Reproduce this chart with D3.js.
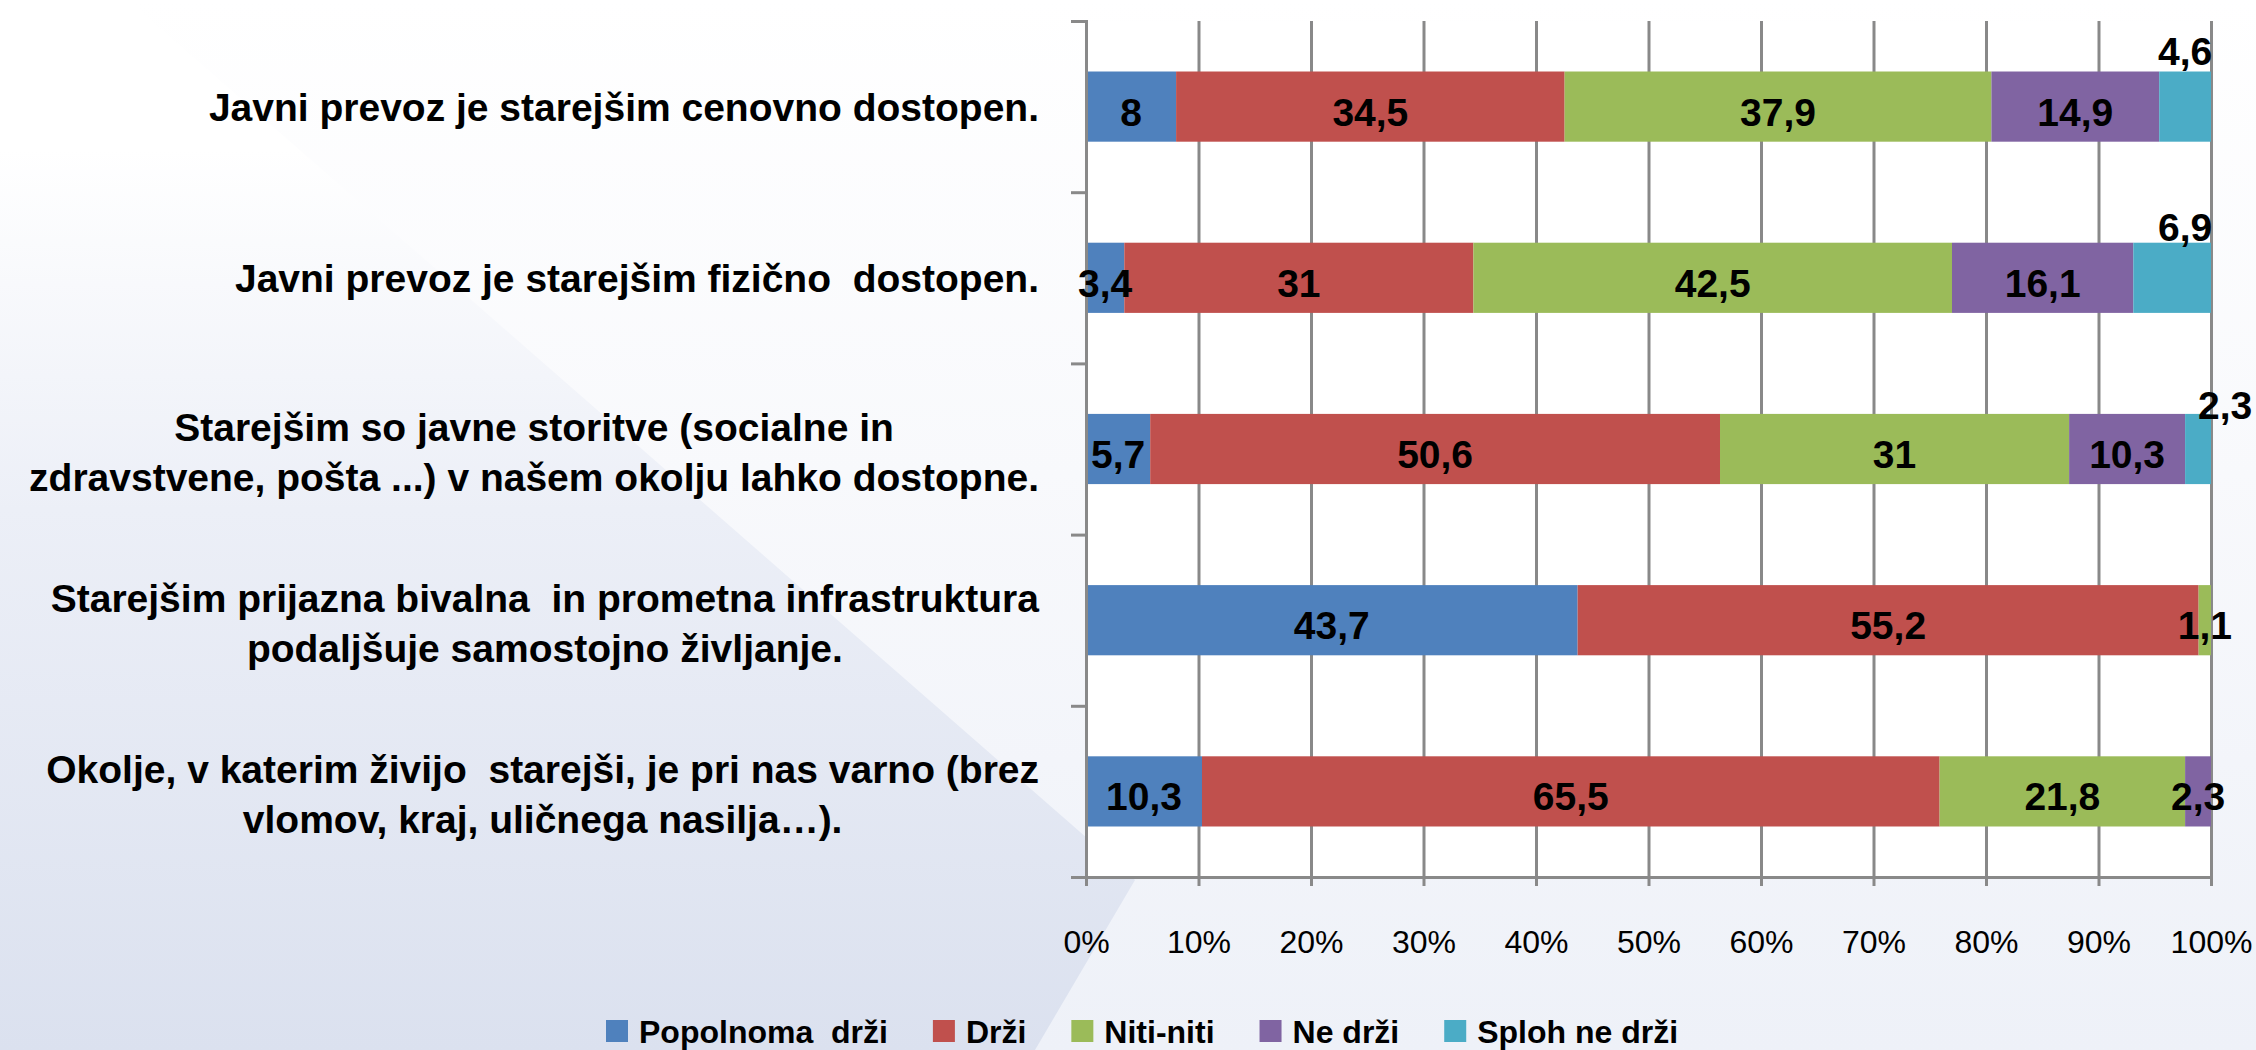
<!DOCTYPE html>
<html>
<head>
<meta charset="utf-8">
<script src="https://cdn.jsdelivr.net/npm/d3@7"></script>
<style>
  body { margin: 0; background: #fff; }
  text { font-family: "Liberation Sans", Arial, sans-serif; }
</style>
</head>
<body>
<div id="chart"></div>
<script>
// categories (top to bottom), "\n" marks the line breaks of the label
var categories = [
  "Javni prevoz je starejšim cenovno dostopen.",
  "Javni prevoz je starejšim fizično  dostopen.",
  "Starejšim so javne storitve (socialne in\nzdravstvene, pošta ...) v našem okolju lahko dostopne.",
  "Starejšim prijazna bivalna  in prometna infrastruktura\npodaljšuje samostojno življanje.",
  "Okolje, v katerim živijo  starejši, je pri nas varno (brez\nvlomov, kraj, uličnega nasilja…)."
];

var seriesNames = ["Popolnoma  drži", "Drži", "Niti-niti", "Ne drži", "Sploh ne drži"];
var seriesColors = ["#4F81BD", "#C0504D", "#9BBB59", "#8064A2", "#4BACC6"];

// values in %, one array per series
var popolnomaDrzi = [8, 3.4, 5.7, 43.7, 10.3];
var drzi = [34.5, 31, 50.6, 55.2, 65.5];
var nitiNiti = [37.9, 42.5, 31, 1.1, 21.8];
var neDrzi = [14.9, 16.1, 10.3, 0, 2.3];
var splohNeDrzi = [4.6, 6.9, 2.3, 0, 0];

var tickValues = [0, 0.1, 0.2, 0.3, 0.4, 0.5, 0.6, 0.7, 0.8, 0.9, 1];

// a few labels were moved by hand in the original (series index, row index)
var labelNudge = [
  { s: 4, r: 0, dx: 0, dy: -61 },
  { s: 4, r: 1, dx: 13, dy: -56 },
  { s: 4, r: 2, dx: 27, dy: -49 }
];

// Set up chart
var svgWidth = 2256;
var svgHeight = 1050;

var plot = { left: 1086, right: 2211, top: 21, bottom: 877 };
var width = plot.right - plot.left;
var height = plot.bottom - plot.top;

var svg = d3.select("#chart")
  .append("svg")
  .attr("width", svgWidth)
  .attr("height", svgHeight);

// background
var defs = svg.append("defs");
var bg = defs.append("linearGradient").attr("id", "bg")
  .attr("x1", 0).attr("y1", 0).attr("x2", 0).attr("y2", 1);
bg.append("stop").attr("offset", "0%").attr("stop-color", "#ffffff");
bg.append("stop").attr("offset", "45%").attr("stop-color", "#f8f9fc");
bg.append("stop").attr("offset", "100%").attr("stop-color", "#eef1f8");

var shade = defs.append("linearGradient").attr("id", "shade")
  .attr("gradientUnits", "userSpaceOnUse")
  .attr("x1", 0).attr("y1", 150).attr("x2", 0).attr("y2", 1050);
shade.append("stop").attr("offset", "0%").attr("stop-color", "#ffffff");
shade.append("stop").attr("offset", "40%").attr("stop-color", "#eceff7");
shade.append("stop").attr("offset", "100%").attr("stop-color", "#dbe1ef");

svg.append("rect")
  .attr("width", svgWidth)
  .attr("height", svgHeight)
  .attr("fill", "url(#bg)");

svg.append("path")
  .attr("d", "M0,-112 L1135,880 L1035,1050 L0,1050 Z")
  .attr("fill", "url(#shade)");

// plot area
svg.append("rect")
  .attr("x", plot.left)
  .attr("y", plot.top)
  .attr("width", width)
  .attr("height", height)
  .attr("fill", "#ffffff");

var chartGroup = svg.append("g")
  .attr("transform", `translate(${plot.left}, ${plot.top})`);

// data table
var allSeries = [popolnomaDrzi, drzi, nitiNiti, neDrzi, splohNeDrzi];
var keys = seriesNames;
var table = categories.map(function(c, i) {
  var row = { category: c };
  keys.forEach(function(k, s) { row[k] = allSeries[s][i]; });
  return row;
});

var stacked = d3.stack()
  .keys(keys)
  .offset(d3.stackOffsetExpand)(table);

// Scales
var xScale = d3.scaleLinear()
  .domain([0, 1])
  .range([0, width]);

var yScale = d3.scaleBand()
  .domain(categories)
  .range([0, height])
  .paddingInner(0.59)
  .paddingOuter(0.295);

var slotScale = d3.scaleLinear()
  .domain([0, categories.length])
  .range([0, height]);

// gridlines
chartGroup.append("g")
  .attr("class", "grid")
  .call(d3.axisBottom(xScale).tickValues(tickValues).tickSize(height).tickFormat(""))
  .call(g => g.select(".domain").remove())
  .call(g => g.selectAll("line").attr("stroke", "#898989").attr("stroke-width", 3));

// bars
chartGroup.append("g")
  .selectAll("g")
  .data(stacked)
  .enter()
  .append("g")
  .attr("fill", (d, i) => seriesColors[i])
  .selectAll("rect")
  .data(d => d)
  .enter()
  .append("rect")
  .attr("x", d => xScale(d[0]))
  .attr("y", d => yScale(d.data.category))
  .attr("width", d => xScale(d[1]) - xScale(d[0]))
  .attr("height", yScale.bandwidth());

// x axis
chartGroup.append("g")
  .attr("transform", `translate(0, ${height})`)
  .call(d3.axisBottom(xScale).tickValues(tickValues).tickSize(9).tickPadding(44).tickFormat(d3.format(".0%")))
  .call(g => g.select(".domain").attr("stroke", "#898989").attr("stroke-width", 3))
  .call(g => g.selectAll("line").attr("stroke", "#898989").attr("stroke-width", 3))
  .call(g => g.selectAll("text")
    .attr("fill", "#000")
    .style("font-size", "32px")
    .style("font-family", "'Liberation Sans', Arial, sans-serif"));

// y axis (ticks between categories)
chartGroup.append("g")
  .call(d3.axisLeft(slotScale).ticks(categories.length).tickSize(15).tickFormat(""))
  .call(g => g.select(".domain").attr("stroke", "#898989").attr("stroke-width", 3))
  .call(g => g.selectAll("line").attr("stroke", "#898989").attr("stroke-width", 3));

// category labels: each block right aligned, lines centred inside it
var lineHeight = 50;
var catLabels = chartGroup.append("g")
  .selectAll("text")
  .data(categories)
  .enter()
  .append("text")
  .attr("text-anchor", "middle")
  .style("font-size", "39px")
  .style("font-weight", "bold")
  .style("white-space", "pre")
  .attr("fill", "#000");

catLabels.each(function(c) {
  var t = d3.select(this);
  var lines = c.split("\n");
  var mid = yScale(c) + yScale.bandwidth() / 2;
  var maxW = 0;
  lines.forEach(function(line, i) {
    var ts = t.append("tspan")
      .attr("y", mid + 14 + (i - (lines.length - 1) / 2) * lineHeight + (lines.length > 1 ? 3 : 0))
      .text(line);
    maxW = Math.max(maxW, ts.node().getComputedTextLength());
  });
  t.selectAll("tspan").attr("x", -47 - maxW / 2);
});

// data labels
var nudgeOf = function(s, r) {
  var n = labelNudge.find(d => d.s === s && d.r === r);
  return n || { dx: 0, dy: 0 };
};

stacked.forEach(function(layer, s) {
  chartGroup.append("g")
    .selectAll("text")
    .data(layer.map((d, r) => ({ d: d, r: r, v: allSeries[s][r] })).filter(e => e.v > 0))
    .enter()
    .append("text")
    .attr("text-anchor", "middle")
    .attr("x", e => xScale((e.d[0] + e.d[1]) / 2) + nudgeOf(s, e.r).dx)
    .attr("y", e => yScale(e.d.data.category) + yScale.bandwidth() / 2 + 19 + nudgeOf(s, e.r).dy)
    .style("font-size", "39px")
    .style("font-weight", "bold")
    .attr("fill", "#000")
    .text(e => String(e.v).replace(".", ","));
});

// legend
var legend = svg.append("g");
var lx = 606;
seriesNames.forEach(function(name, i) {
  legend.append("rect")
    .attr("x", lx)
    .attr("y", 1020)
    .attr("width", 22)
    .attr("height", 22)
    .attr("fill", seriesColors[i]);
  var t = legend.append("text")
    .attr("x", lx + 33)
    .attr("y", 1043)
    .style("font-size", "32px")
    .style("font-weight", "bold")
    .style("white-space", "pre")
    .attr("fill", "#000")
    .text(name);
  lx += 33 + t.node().getComputedTextLength() + 45;
});
</script>
</body>
</html>
